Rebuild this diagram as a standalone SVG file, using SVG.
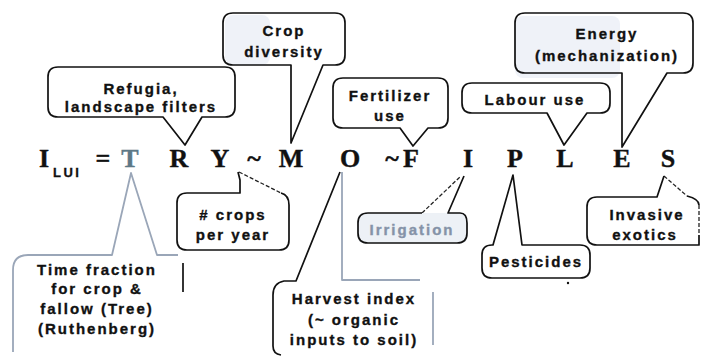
<svg xmlns="http://www.w3.org/2000/svg" width="701" height="357" viewBox="0 0 701 357">
<style>
.bx{fill:none;stroke:#111;stroke-width:1.7;stroke-linejoin:round}
.gy{fill:none;stroke:#9aa6b8;stroke-width:1.8;stroke-linejoin:round}
.ds{fill:none;stroke:#222;stroke-width:1.3;stroke-dasharray:4 2}
.t{font-family:"Liberation Sans",Arial,sans-serif;font-weight:bold;font-size:15px;letter-spacing:2px;fill:#111;stroke:#111;stroke-width:0.35;text-anchor:middle}
.eq{font-family:"Liberation Serif","Times New Roman",serif;font-weight:bold;font-size:26px;fill:#111;stroke:#111;stroke-width:0.4;text-anchor:middle}
</style>
<rect width="701" height="357" fill="#fff"/>
<g id="shading" fill="#e4eaf4" opacity="0.6">
<rect x="515" y="16" width="105" height="62" rx="8"/>
<rect x="225" y="15" width="45" height="50" rx="8"/>
</g>
<g id="equation">
<text class="eq" x="44" y="167">I</text>
<text x="53" y="177" style="font-family:'Liberation Sans',Arial,sans-serif;font-weight:bold;font-size:13px;letter-spacing:2.5px;fill:#111;stroke:#111;stroke-width:0.3">LUI</text>
<text class="eq" x="103" y="167">=</text>
<text class="eq" x="130" y="167" style="fill:#5d7886;stroke:#5d7886">T</text>
<text class="eq" x="179" y="167">R</text>
<text class="eq" x="220" y="167">Y</text>
<text class="eq" x="254" y="167">~</text>
<text class="eq" x="291" y="167">M</text>
<text class="eq" x="350" y="167">O</text>
<text class="eq" x="392" y="167">~</text>
<text class="eq" x="411" y="167">F</text>
<text class="eq" x="468" y="167">I</text>
<text class="eq" x="515" y="167">P</text>
<text class="eq" x="565" y="167">L</text>
<text class="eq" x="622" y="167">E</text>
<text class="eq" x="668" y="167">S</text>
</g>
<g id="connectors">
<path class="ds" d="M239,172 L281,193"/>
<path class="ds" d="M422,213 L461,176"/>
<path class="ds" d="M664,176 L687,196"/>
</g>
<g id="refugia">
<path class="bx" d="M58,67 H225 Q235,67 235,77 V107 Q235,117 225,117 H202 L185,145 L163,117 H58 Q48,117 48,107 V77 Q48,67 58,67 Z"/>
<text class="t" x="141" y="94">Refugia,</text>
<text class="t" x="141" y="112">landscape filters</text>
</g>
<g id="crop-diversity">
<path class="bx" d="M233,13 H335 Q345,13 345,23 V55 Q345,65 335,65 H323 L291,143 V65 H233 Q223,65 223,55 V23 Q223,13 233,13 Z"/>
<text class="t" x="284" y="36">Crop</text>
<text class="t" x="284" y="57">diversity</text>
</g>
<g id="fertilizer">
<path class="bx" d="M343,78 H438 Q448,78 448,88 V118 Q448,128 438,128 H428 L413,146 L400,128 H343 Q333,128 333,118 V88 Q333,78 343,78 Z"/>
<text class="t" x="390" y="101">Fertilizer</text>
<text class="t" x="390" y="121">use</text>
</g>
<g id="labour">
<path class="bx" d="M472,83 H600 Q610,83 610,93 V103 Q610,113 600,113 H587 L564,145 L547,113 H472 Q462,113 462,103 V93 Q462,83 472,83 Z"/>
<text class="t" x="535" y="105">Labour use</text>
</g>
<g id="energy">
<path class="bx" d="M525,13 H683 Q693,13 693,23 V63 Q693,73 683,73 H667 L622,147 V73 H525 Q515,73 515,63 V23 Q515,13 525,13 Z"/>
<text class="t" x="607" y="39">Energy</text>
<text class="t" x="607" y="61">(mechanization)</text>
</g>
<g id="crops-per-year">
<path class="bx" d="M281,193 Q289,195 289,205 V240 Q289,250 279,250 H187 Q177,250 177,240 V203 Q177,193 187,193 H240 V180 L238,172"/>
<text class="t" x="233" y="220">#  crops</text>
<text class="t" x="233" y="240">per year</text>
</g>
<g id="irrigation">
<rect x="358" y="213" width="109" height="30" rx="5" fill="#edf1f6"/>
<path class="bx" d="M422,213 H368 Q358,213 358,223 V233 Q358,243 368,243 H457 Q467,243 467,233 V223 Q467,213 460,213 H448 L464,176"/>
<text class="t" x="412" y="235" style="fill:#8593a8;stroke:#8593a8">Irrigation</text>
</g>
<g id="pesticides">
<path class="bx" d="M492,245 H493 L513,175 L522,245 H580 Q590,245 590,255 V268 Q590,278 580,278 H492 Q482,278 482,268 V255 Q482,245 492,245 Z"/>
<text class="t" x="536" y="267">Pesticides</text>
<circle cx="568" cy="283" r="1.2" fill="#111"/>
</g>
<g id="invasive">
<path class="bx" d="M687,196 Q699,199 699,205 M699,235 V245 H597 Q587,245 587,235 V207 Q587,197 597,197 H657 L664,176"/>
<path class="ds" d="M699,205 V235"/>
<text class="t" x="647" y="220">Invasive</text>
<text class="t" x="645" y="240">exotics</text>
</g>
<g id="time-fraction">
<path class="gy" d="M13,352 V270 Q13,255 28,255 H112 L131,173 L157,255 H178"/>
<path class="bx" d="M183,263 V292"/>
<text class="t" x="97" y="275">Time fraction</text>
<text class="t" x="97" y="294">for crop &amp;</text>
<text class="t" x="97" y="314">fallow (Tree)</text>
<text class="t" x="97" y="334">(Ruthenberg)</text>
</g>
<g id="harvest-index">
<path class="bx" d="M340,172 L296,281 H284 Q273,283 273,295 V346 Q273,354 281,355"/>
<path class="gy" d="M342,172 V280 H420"/>
<path class="gy" d="M433,292 V345"/>
<text class="t" x="354" y="304">Harvest index</text>
<text class="t" x="354" y="325">(~ organic</text>
<text class="t" x="354" y="345">inputs to soil)</text>
</g>
</svg>
